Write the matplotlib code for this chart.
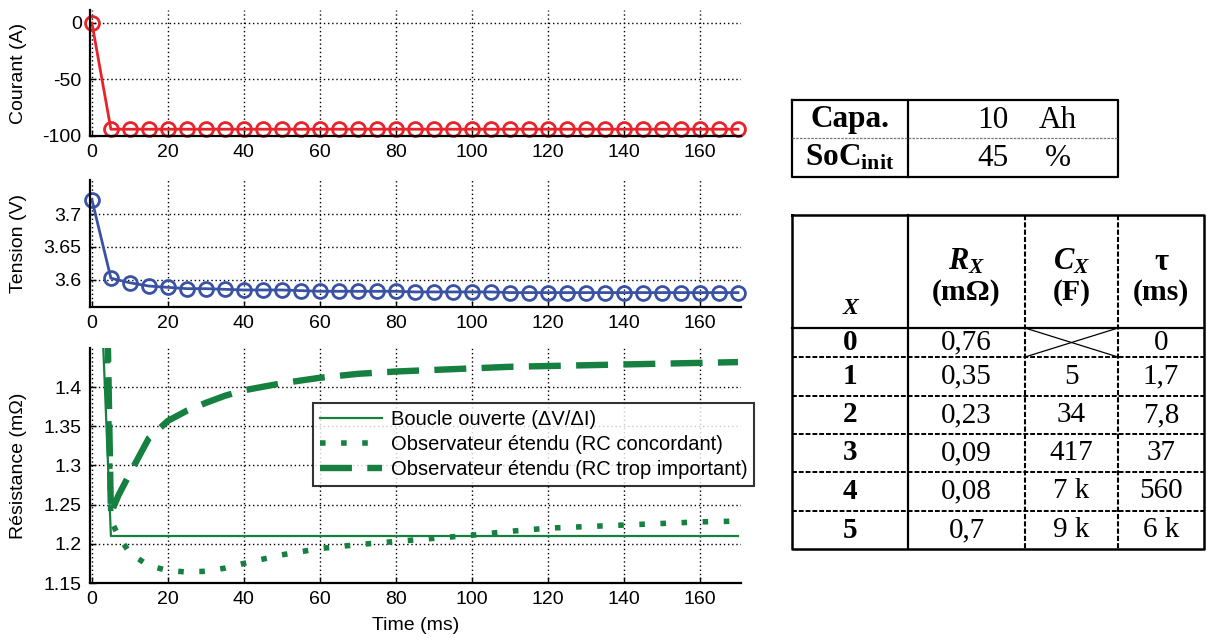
import numpy as np
import matplotlib
matplotlib.use('Agg')
import matplotlib.pyplot as plt
from matplotlib.ticker import FormatStrFormatter

plt.rcParams['font.family'] = ['Liberation Sans', 'DejaVu Sans']
plt.rcParams['axes.unicode_minus'] = False
plt.rcParams['mathtext.fontset'] = 'custom'
plt.rcParams['mathtext.rm'] = 'Liberation Serif:bold'
plt.rcParams['mathtext.it'] = 'Liberation Serif:italic:bold'
plt.rcParams['mathtext.bf'] = 'Liberation Serif:bold'

# --- données ---
t_mesure = list(range(0, 175, 5))
courant = [0, -94, -94, -94, -94, -94, -94, -94, -94, -94, -94, -94,
           -94, -94, -94, -94, -94, -94, -94, -94, -94, -94, -94, -94,
           -94, -94, -94, -94, -94, -94, -94, -94, -94, -94, -94]
tension = [3.722, 3.602, 3.595, 3.590, 3.588, 3.586, 3.586, 3.585, 3.584,
           3.584, 3.584, 3.583, 3.582, 3.582, 3.582, 3.582, 3.582, 3.581,
           3.581, 3.581, 3.581, 3.581, 3.580, 3.580, 3.580, 3.580, 3.580,
           3.580, 3.580, 3.580, 3.580, 3.580, 3.580, 3.580, 3.580]

t_ouvert = [0, 5, 170]
r_ouvert = [1.81, 1.21, 1.21]

t_obs = [0, 5, 7, 10, 15, 20, 25, 30, 35, 40, 50, 60, 70, 80, 90, 100,
         110, 120, 130, 140, 150, 160, 170]
r_concordant = [2.40, 1.230, 1.210, 1.188, 1.172, 1.166, 1.164, 1.165, 1.169,
                1.175, 1.186, 1.194, 1.199, 1.203, 1.207, 1.211, 1.216,
                1.220, 1.222, 1.224, 1.226, 1.228, 1.229]
r_important = [2.60, 1.239, 1.262, 1.290, 1.335, 1.357, 1.370, 1.380, 1.389,
               1.396, 1.405, 1.412, 1.417, 1.420, 1.422, 1.424, 1.426,
               1.427, 1.428, 1.429, 1.430, 1.431, 1.432]

legende = ['Boucle ouverte (\u0394V/\u0394I)',
           'Observateur étendu (RC concordant)',
           'Observateur étendu (RC trop important)']

batt_labels = ['Capa.', r'$\mathrm{SoC}_{\mathrm{init}}$']
batt_values = ['10', '45']
batt_units = ['Ah', '%']

rc_x = ['0', '1', '2', '3', '4', '5']
rc_R = ['0,76', '0,35', '0,23', '0,09', '0,08', '0,7']
rc_C = ['', '5', '34', '417', '7 k', '9 k']
rc_tau = ['0', '1,7', '7,8', '37', '560', '6 k']

vert = '#15803f'
rouge = '#e8232b'
bleu = '#3a52a3'

W, H = 1207, 638
fig = plt.figure(figsize=(W / 100, H / 100), dpi=100)


def px_axes(left, top, right, bottom):
    return fig.add_axes([left / W, 1 - bottom / H, (right - left) / W, (bottom - top) / H])


def style(ax, yticks, ylim, ylabel):
    ax.set_xlim(-0.5, 170.8)
    ax.set_ylim(*ylim)
    ax.set_xticks(range(0, 161, 20))
    ax.set_yticks(yticks)
    ax.yaxis.set_major_formatter(FormatStrFormatter('%g'))
    ax.grid(True, color='black', linestyle=(0, (1, 2)), linewidth=1)
    for s in ['top', 'right']:
        ax.spines[s].set_visible(False)
    for s in ['left', 'bottom']:
        ax.spines[s].set_linewidth(1.6)
    ax.tick_params(direction='in', length=4, width=1, labelsize=14, pad=6)
    ax.set_ylabel(ylabel, fontsize=14)
    ax.yaxis.set_label_coords(-0.097, 0.5)


ax1 = px_axes(90, 10, 741, 136)
ax1.plot(t_mesure, courant, '-o', color=rouge, lw=2, ms=10, mfc='none', mew=2, clip_on=False)
style(ax1, [-100, -50, 0], (-100, 11.5), 'Courant (A)')

ax2 = px_axes(90, 180, 741, 307)
ax2.plot(t_mesure, tension, '-o', color=bleu, lw=2, ms=10, mfc='none', mew=2, clip_on=False)
style(ax2, [3.6, 3.65, 3.7], (3.558, 3.752), 'Tension (V)')

ax3 = px_axes(90, 348, 741, 583)
ax3.plot(t_ouvert, r_ouvert, '-', color=vert, lw=1.6, label=legende[0])
ax3.plot(t_obs, r_concordant, color=vert, lw=4, linestyle=(0, (1, 2.8)), label=legende[1])
ax3.plot(t_obs, r_important, color=vert, lw=4.6, linestyle=(0, (5, 2.4)), label=legende[2])
style(ax3, [1.15, 1.2, 1.25, 1.3, 1.35, 1.4], (1.15, 1.45), 'Résistance (m\u03a9)')
ax3.set_xlabel('Time (ms)', fontsize=14, labelpad=6)
leg = ax3.legend(loc='upper left', bbox_to_anchor=(313 / W, 1 - 403 / H),
                 bbox_transform=fig.transFigure, fontsize=14.5, frameon=True,
                 fancybox=False, borderaxespad=0, handlelength=3.1,
                 handletextpad=0.4, labelspacing=0.3, borderpad=0.35)
leg.get_frame().set_edgecolor('black')
leg.get_frame().set_linewidth(1.5)

# --- tableaux à droite ---
tab = fig.add_axes([0, 0, 1, 1], zorder=-1)
tab.set_xlim(0, W)
tab.set_ylim(H, 0)
tab.axis('off')
serif = 'Liberation Serif'

# tableau batterie
tab.plot([792, 1118, 1118, 792, 792], [100, 100, 177, 177, 100], color='black', lw=1.6)
tab.plot([908, 908], [100, 177], color='black', lw=1.6)
tab.plot([792, 1118], [138, 138], color='#777777', lw=0.9, linestyle=(0, (2, 1)))
for i, yc in enumerate([120, 158]):
    tab.text(850, yc, batt_labels[i], family=serif, fontweight='bold', fontsize=22.5,
             ha='center', va='center')
    tab.text(993, yc, batt_values[i], family=serif, fontsize=22.5, ha='center', va='center')
    tab.text(1058, yc, batt_units[i], family=serif, fontsize=22.5, ha='center', va='center')

# tableau RC
xs = [792, 908, 1025, 1118, 1204]
ys = [215, 328, 357, 396, 434, 472, 511, 549]
tab.plot([792, 1204, 1204, 792, 792], [215, 215, 549, 549, 215], color='black', lw=1.8)
tab.plot([908, 908], [215, 549], color='black', lw=1.6)
for xv in xs[2:4]:
    tab.plot([xv, xv], [215, 549], color='black', lw=1.5, linestyle=(0, (2.5, 1)))
tab.plot([792, 1204], [328, 328], color='black', lw=1.6)
for yv in ys[2:-1]:
    tab.plot([792, 1204], [yv, yv], color='black', lw=1.4, linestyle=(0, (2.5, 1)))
tab.plot([1025, 1118], [328, 357], color='black', lw=0.9)
tab.plot([1025, 1118], [357, 328], color='black', lw=0.9)

tab.text(850, 308, 'X', family=serif, fontweight='bold', style='italic', fontsize=17,
         ha='center', va='center')
heads = [r'$R_X$', r'$C_X$', '\u03c4']
units = ['(m\u03a9)', '(F)', '(ms)']
for j in range(3):
    xc = (xs[j + 1] + xs[j + 2]) / 2
    tab.text(xc, 262, heads[j], family=serif, fontweight='bold', fontsize=22,
             ha='center', va='center')
    tab.text(xc, 293, units[j], family=serif, fontweight='bold', fontsize=21.5,
             ha='center', va='center')

for i in range(len(rc_x)):
    yc = (ys[i + 1] + ys[i + 2]) / 2
    tab.text(850, yc, rc_x[i], family=serif, fontweight='bold', fontsize=21, ha='center', va='center')
    for j, col in enumerate([rc_R, rc_C, rc_tau]):
        xc = (xs[j + 1] + xs[j + 2]) / 2
        tab.text(xc, yc, col[i], family=serif, fontsize=21, ha='center', va='center')

fig.savefig('out.png', dpi=100)
